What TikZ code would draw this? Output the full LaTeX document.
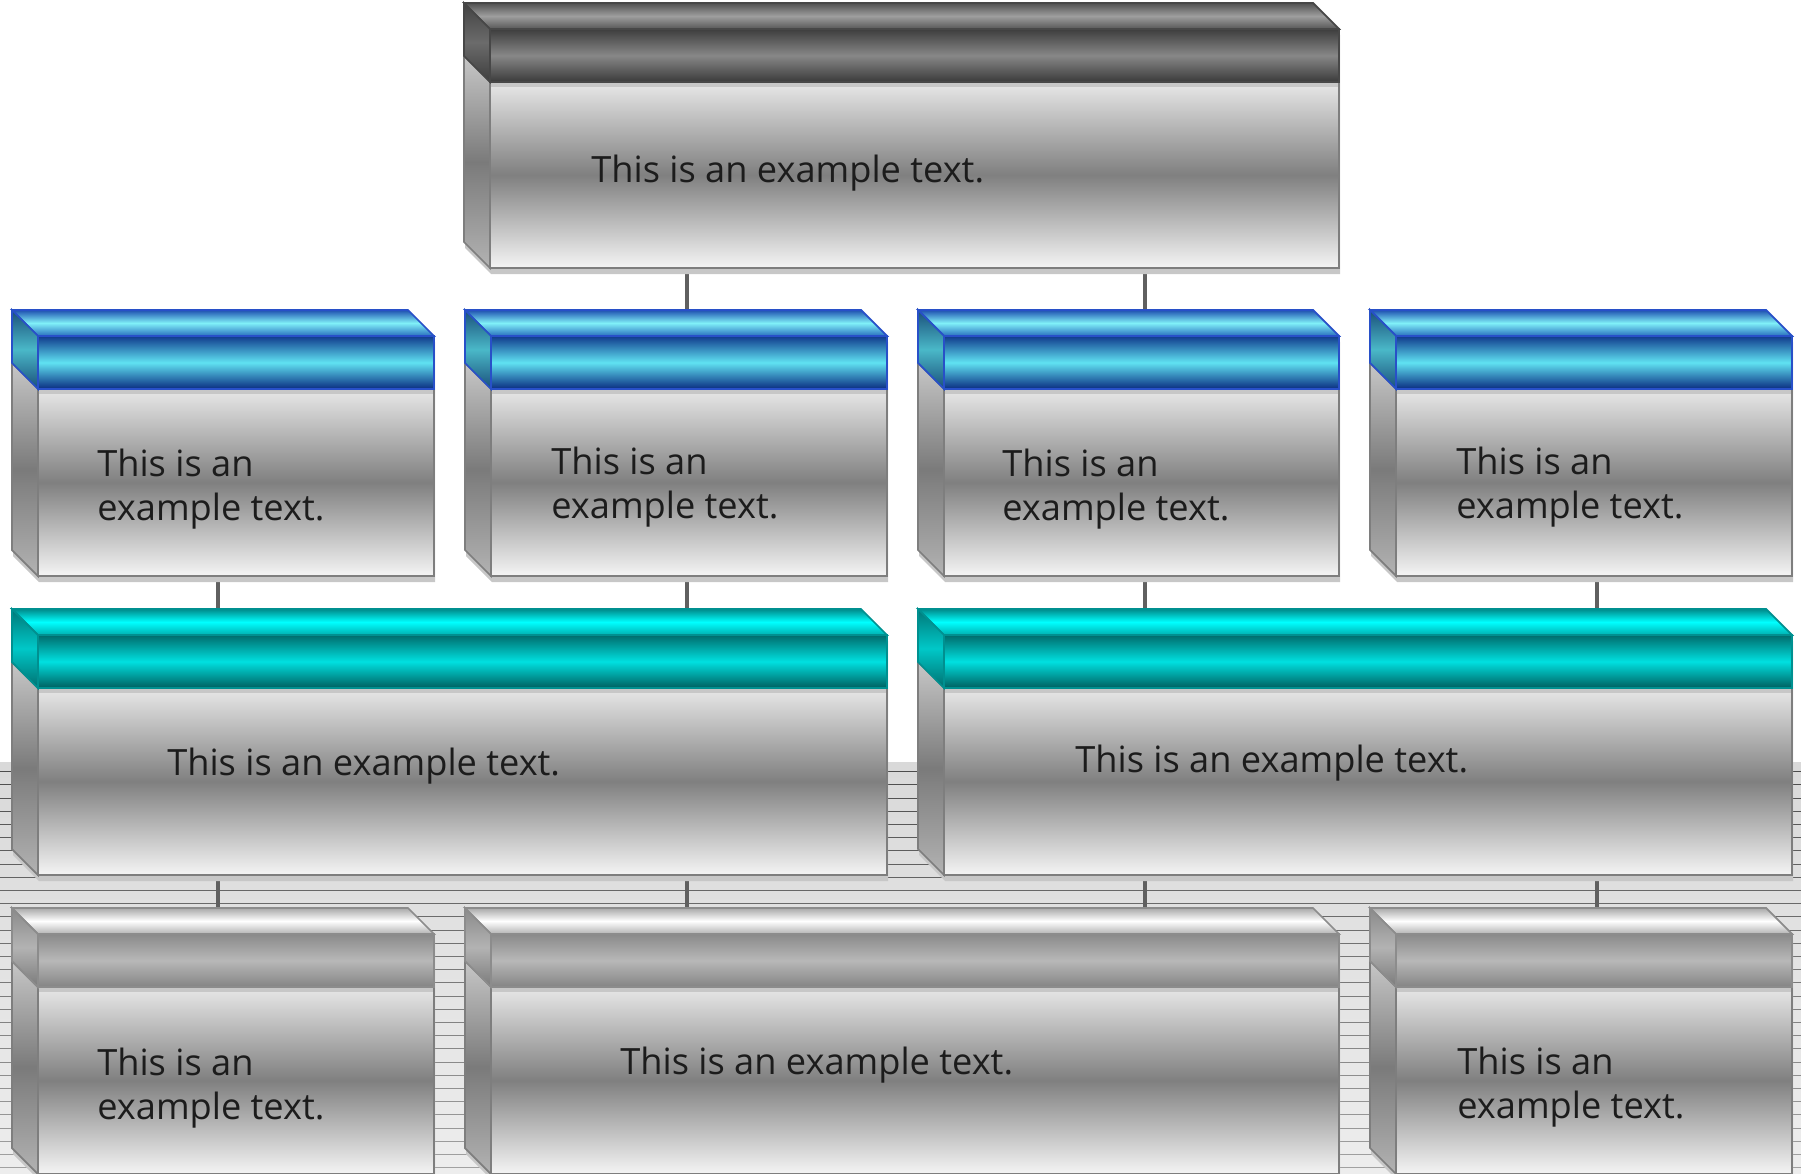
\documentclass[tikz,border=0pt]{standalone}
\usepackage{fontspec}
\setmainfont{Open Sans}
\usetikzlibrary{positioning, fit, backgrounds}

\definecolor{inkgray}{HTML}{1C1C1C}
\definecolor{linkgray}{HTML}{606060}
\definecolor{rimgray}{HTML}{7E7E7E}

% one 3D box: name, back-left x, back-top y, front-right x, front-bottom y, scheme
\newcommand{\tierbox}[6]{%
  \fill[box shadow, shift={(1,6)}] (#2,#3) -- (#4-26,#3) -- (#4,#3+26) -- (#4,#5) -- (#2+26,#5) -- (#2,#5-26) -- cycle;
  \draw[body face] (#2+26,#3+79) rectangle (#4,#5);
  \fill[body strip] (#2+27,#3+79) rectangle (#4-1,#3+84);
  \draw[body side] (#2,#3+53) -- (#2+26,#3+79) -- (#2+26,#5) -- (#2,#5-26) -- cycle;
  \draw[#6 face] (#2+26,#3+26) rectangle (#4,#3+79);
  \draw[#6 top] (#2,#3) -- (#4-26,#3) -- (#4,#3+26) -- (#2+26,#3+26) -- cycle;
  \draw[#6 side] (#2,#3) -- (#2+26,#3+26) -- (#2+26,#3+79) -- (#2,#3+53) -- cycle;
  \node[fit={(#2+26,#3+26) (#4,#5)}, inner sep=0pt] (#1) {};
}

\begin{document}
\begin{tikzpicture}[x=0.02cm, y=-0.02cm, line join=miter,
    box shadow/.style={fill=black!22},
    body face/.style={draw=rimgray, line width=1.2pt, top color=black!9, bottom color=black!4, middle color=black!50},
    body strip/.style={fill=black!22},
    body side/.style={draw=rimgray, line width=1pt, top color=black!22, bottom color=black!30, middle color=black!52},
    slate face/.style={draw=black!72, line width=1pt, top color=black!76, bottom color=black!77, middle color=black!47},
    slate top/.style={draw=black!72, line width=1pt, top color=black!68, bottom color=black!66, middle color=black!38},
    slate side/.style={draw=black!72, line width=1pt, top color=black!74, bottom color=black!76, middle color=black!58},
    azure face/.style={draw={rgb,255:red,40;green,80;blue,200}, line width=1pt, top color={rgb,255:red,16;green,58;blue,140}, bottom color={rgb,255:red,10;green,44;blue,128}, middle color={rgb,255:red,96;green,226;blue,242}},
    azure top/.style={draw={rgb,255:red,40;green,80;blue,200}, line width=1pt, top color={rgb,255:red,30;green,80;blue,176}, bottom color={rgb,255:red,40;green,110;blue,190}, middle color={rgb,255:red,128;green,240;blue,248}},
    azure side/.style={draw={rgb,255:red,40;green,80;blue,200}, line width=1pt, top color={rgb,255:red,26;green,79;blue,122}, bottom color={rgb,255:red,26;green,79;blue,122}, middle color={rgb,255:red,74;green,184;blue,200}},
    teal face/.style={draw={rgb,255:red,0;green,144;blue,144}, line width=1pt, top color={rgb,255:red,0;green,108;blue,108}, bottom color={rgb,255:red,0;green,96;blue,96}, middle color={rgb,255:red,0;green,224;blue,224}},
    teal top/.style={draw={rgb,255:red,0;green,144;blue,144}, line width=1pt, top color={rgb,255:red,0;green,138;blue,138}, bottom color={rgb,255:red,0;green,176;blue,176}, middle color={rgb,255:red,0;green,255;blue,255}},
    teal side/.style={draw={rgb,255:red,0;green,144;blue,144}, line width=1pt, top color={rgb,255:red,0;green,120;blue,120}, bottom color={rgb,255:red,0;green,112;blue,112}, middle color={rgb,255:red,0;green,200;blue,200}},
    silver face/.style={draw=black!45, line width=1pt, top color=black!46, bottom color=black!48, middle color=black!28},
    silver top/.style={draw=black!45, line width=1pt, top color=black!34, bottom color=black!30, middle color=white},
    silver side/.style={draw=black!45, line width=1pt, top color=black!46, bottom color=black!52, middle color=black!30},
    link/.style={draw=linkgray, line width=0.08cm},
    stripe/.style={line width=0.6pt},
    label text/.style={font=\fontsize{20.6}{25}\selectfont, text=inkgray, inner sep=0pt, align=left}]

  \useasboundingbox (0,0) rectangle (1801,1173);

  % columns of the connectors
  \coordinate (col1) at (218,0);
  \coordinate (col2) at (687,0);
  \coordinate (col3) at (1145,0);
  \coordinate (col4) at (1597,0);

  % boxes, top to bottom
  \tierbox{chief}{464}{3}{1339}{268}{slate}
  \tierbox{unit1}{12}{310}{434}{576}{azure}
  \tierbox{unit2}{465}{310}{887}{576}{azure}
  \tierbox{unit3}{918}{310}{1339}{576}{azure}
  \tierbox{unit4}{1370}{310}{1792}{576}{azure}
  \tierbox{dept1}{12}{609}{887}{875}{teal}
  \tierbox{dept2}{918}{609}{1792}{875}{teal}
  \tierbox{team1}{12}{908}{434}{1174}{silver}
  \tierbox{team2}{465}{908}{1339}{1174}{silver}
  \tierbox{team3}{1370}{908}{1792}{1174}{silver}

  % texts (two-line ones sit on their last baseline)
  \node[label text, anchor=base west] (chief-text) at (591,182) {This is an example text.};
  \node[label text, anchor=base west] (unit1-text) at (97,520) {This is an\\example text.};
  \node[label text, anchor=base west] (unit2-text) at (551,518) {This is an\\example text.};
  \node[label text, anchor=base west] (unit3-text) at (1002,520) {This is an\\example text.};
  \node[label text, anchor=base west] (unit4-text) at (1456,518) {This is an\\example text.};
  \node[label text, anchor=base west] (dept1-text) at (167,775) {This is an example text.};
  \node[label text, anchor=base west] (dept2-text) at (1075,772) {This is an example text.};
  \node[label text, anchor=base west] (team1-text) at (97,1119) {This is an\\example text.};
  \node[label text, anchor=base west] (team2-text) at (620,1074) {This is an example text.};
  \node[label text, anchor=base west] (team3-text) at (1457,1118) {This is an\\example text.};

  \begin{scope}[on background layer]
    \fill[top color=black!15, bottom color=black!7] (0,762) rectangle (1801,1173);
    \foreach \k [evaluate=\k as \p using 70-1.1*\k] in {0,...,30}
      \draw[stripe, draw=black!\p] (0,771.7+13.2*\k) -- (1801,771.7+13.2*\k);
    % connectors
    \draw[link] (col2 |- chief.south) -- (col2 |- unit2.north);
    \draw[link] (col3 |- chief.south) -- (col3 |- unit3.north);
    \draw[link] (col1 |- unit1.south) -- (col1 |- dept1.north);
    \draw[link] (col2 |- unit2.south) -- (col2 |- dept1.north);
    \draw[link] (col3 |- unit3.south) -- (col3 |- dept2.north);
    \draw[link] (col4 |- unit4.south) -- (col4 |- dept2.north);
    \draw[link] (col1 |- dept1.south) -- (col1 |- team1.north);
    \draw[link] (col2 |- dept1.south) -- (col2 |- team2.north);
    \draw[link] (col3 |- dept2.south) -- (col3 |- team2.north);
    \draw[link] (col4 |- dept2.south) -- (col4 |- team3.north);
  \end{scope}
\end{tikzpicture}
\end{document}
